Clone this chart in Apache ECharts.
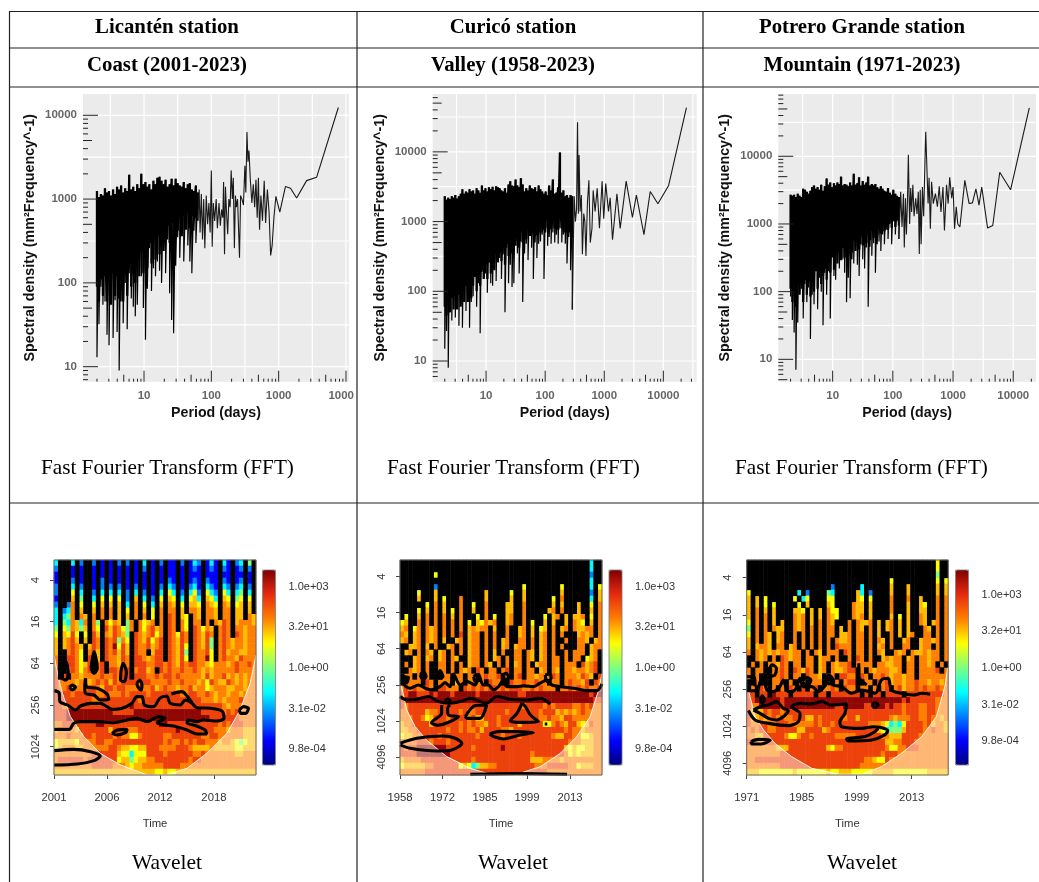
<!DOCTYPE html>
<html><head><meta charset="utf-8">
<script src="https://cdn.jsdelivr.net/npm/echarts@6/dist/echarts.min.js"></script>
<style>html,body{margin:0;padding:0;background:#fff}#c{width:1039px;height:882px}</style>
</head><body><div id="c"></div>
<script>
// ---------- FFT: shared period samples of the dense part (days)
const densePeriods=[2,2.14,2.29,2.45,2.63,2.82,3.02,3.24,3.47,3.72,3.98,4.27,4.57,4.9,5.25,5.62,6.03,6.46,6.92,7.41,7.94,8.51,9.12,9.77,10.5,11.2,12,12.9,13.8,14.8,15.8,17,18.2,19.5,20.9,22.4,24,25.7,27.5,29.5,31.6,33.9,36.3,38.9,41.7,44.7,47.9,51.3,55,58.9,63.1,67.6,72.4,77.6,83.2,89.1,95.5,102,110,117,126,135,145,155,166,178,191,204,219,234,251,269,288];

const licantenHigh=[1250,1050,1150,1100,1350,1200,1250,1100,1300,1150,1400,1300,1450,1200,1350,1250,1950,1300,1400,1250,1500,1350,2000,1500,1600,1400,1500,1300,1650,1500,1800,1850,1650,1500,1700,1400,1500,1750,1450,1750,1550,1450,1400,1600,1350,1500,1550,1300,1250,1450,1200];
const licantenCore=[90,60,110,70,120,60,110,55,130,70,120,65,130,60,150,70,170,90,130,100,190,120,240,130,280,150,300,170,330,190,370,220,400,240,330,480,300,520,280,560,420,600,360,640,430,700,450,620,700,600,800];
const licantenLow=[13,32,90,55,60,24,18,60,22,62,26,9,60,33,100,28,130,65,52,40,55,250,120,50,21,85,260,80,150,120,180,140,100,450,130,330,75,36,25,160,350,200,520,180,450,280,180,130,420,300,550];
const licantenSparse=[[66,1300],[68,400],[71,1150],[74,330],[77,1000],[80,260],[84,1100],[88,500],[92,900],[96,400],[100,2200],[103,270],[107,900],[112,550],[118,1000],[123,450],[130,900],[136,480],[142,750],[148,600],[152,1600],[157,220],[162,1400],[168,700],[175,380],[182,1000],[190,800],[197,2200],[205,1000],[212,1800],[220,260],[228,1100],[235,800],[245,1000],[255,950],[262,200],[272,1100],[285,1000],[300,850],[315,2500],[325,1200],[338,6300],[350,2800],[362,3800],[378,1800],[400,900],[420,1500],[440,800],[460,1700],[480,600],[500,1800],[520,430],[545,1100],[575,550],[610,1650],[640,520],[680,1300],[720,700],[760,212],[800,280],[850,600],[910,1080],[1040,700],[1260,1410],[1500,1350],[1850,1030],[2600,1660],[3660,1820],[7700,12400]];

const curicoHigh=[2300,2050,2200,2100,2300,2200,2400,2150,2300,2500,2900,2500,2700,2600,2900,2700,2800,2500,3000,2800,2600,3300,2800,3000,2700,3100,2900,3150,2800,3200,3100,3000,2800,2700,3000,2600,3400,3800,3300,3200,4000,3300,3100,4200,3400,2700,3000,2800,3300,3000,2900,3100,2700,3300,2900,2700,2500,2700,2400,3300,2800,4000,2500,2600,3100,9800,2600,2800,2300,2400,2200,2400,2300];
const curicoCore=[60,45,70,50,80,55,85,55,90,60,100,70,120,70,130,80,120,160,100,170,120,200,150,240,150,260,180,300,200,340,260,360,270,430,240,480,320,530,350,600,450,650,420,720,500,780,560,800,620,850,680,900,640,980,700,1000,760,1050,800,1050,780,1100,800,1050,760,1100,800,1000,700,1000,700,1000,600];
const curicoLow=[15,27,8,50,38,75,42,62,32,70,30,115,52,85,30,70,85,190,60,130,25,190,150,180,95,370,130,120,210,140,520,300,150,340,50,420,130,240,115,130,600,350,180,520,70,350,480,280,650,420,150,500,300,480,520,650,150,700,450,600,480,700,500,650,480,800,500,650,480,250,600,200,55];
const curicoSparse=[[310,2300],[325,1000],[340,1500],[353,26500],[365,1300],[375,9000],[390,1400],[410,2400],[427,340],[450,1300],[470,1000],[490,320],[520,1900],[550,3900],[580,500],[620,800],[650,2800],[700,1400],[760,3000],[830,800],[920,3800],[980,1100],[1060,3500],[1180,1400],[1260,2200],[1380,550],[1640,2500],[1760,2400],[1860,800],[2350,3800],[3000,1150],[3500,2400],[4700,650],[6000,2700],[8100,1800],[12300,3300],[24600,43000]];

const potreroHigh=[2700,2600,2700,2500,2800,2600,2500,3300,3200,3000,2800,3100,3500,3700,3300,3500,3200,3800,3100,3600,4700,3800,4100,3500,4000,3700,4100,3900,5000,3700,3900,3800,3600,4100,3700,5500,3800,4000,4900,3700,4300,3800,4100,5000,3700,3900,3700,3900,3500,3300,3600,3300,3100,3000,3400,2900,2700,3200,2800,2600,2500];
const potreroCore=[110,70,100,60,130,90,140,70,150,90,140,85,170,100,200,110,190,130,170,220,150,280,190,320,210,360,260,380,290,440,320,470,350,520,380,560,400,600,420,650,480,680,520,720,580,780,620,820,680,880,720,920,780,1000,820,1060,880,1100,900,1150,950];
const potreroLow=[85,38,25,7,35,100,110,40,130,70,115,20,90,65,220,55,160,100,32,190,90,200,40,380,170,150,330,220,420,300,190,70,160,80,300,260,480,250,170,500,300,220,450,60,460,340,520,190,500,550,400,700,500,820,600,1000,500,1300,700,1100,600];
const potreroSparse=[[130,1200],[135,3000],[142,900],[150,2800],[155,450],[162,2400],[168,700],[175,2200],[181,10500],[190,1000],[198,3400],[205,1500],[215,3800],[225,1300],[240,2400],[252,1400],[265,3000],[275,360],[285,3200],[295,500],[310,3500],[325,1300],[345,12000],[352,23000],[372,5000],[385,2000],[400,4800],[420,850],[440,4200],[470,2000],[510,2800],[550,1800],[590,3600],[630,1500],[680,3500],[720,800],[780,3800],[830,2000],[880,4900],[950,2400],[1000,3500],[1060,850],[1130,1800],[1200,1000],[1300,900],[1570,4400],[1850,2000],[2100,2050],[2400,3300],[2700,1900],[3000,3500],[3750,870],[4570,950],[5970,5800],[9040,3200],[18500,52000]];

// ---------- Wavelet power: one char per cell, 0 navy ... 9 dark red, # significance black
const levelPositions=[0.02,0.12,0.25,0.37,0.5,0.62,0.69,0.75,0.84,0.98];
const licantenRows=[
"3###3#2# #2#1#1#2 #2#1#3#1 #2#11#2# 132#131# 31#23#4#",
"2###1#1# #1#1#1#1 #1#1#2#1 #1#11#1# 121#121# 21#12#2#",
"1###1#1# #1#1#1#1 #1#1#1#1 #1#11#1# 111#111# 11#11#1#",
"1###2#1# #1#2#1#1 #1#1#1#1 #1#21#1# 121#211# 21#12#1#",
"2###3#2# #1#2#2#2 #1#2#1#1 #2#32#1# 231#321# 32#23#2#",
"2###5#3# #2#3#3#3 #2#3#2#1 #3#53#2# 352#532# 53#34#3#",
"1###6#4# #3#5#5#5 #2#6#3#2 #5#65#3# 563#653# 65#45#5#",
"2##27#5# #5#6#6#6 #3#7#5#3 #6#76#5# 665#765# 76#56#6#",
"3#237#6# #6#7#7#6 #5#7#6#5 #7#77#6# 776#776# 77#66#6#",
"3#347#76 #7#7#7#6 #6#7#7#5 #7#87#65 #76#776# 77#66#76",
"3#437637 #74#7576 #47#7567 #7#87#75 #77#7#76 87#67776",
"4#547646 #75#8687 547#7578 67#87#75 #87576#7 87#77677",
"5#6585#5 #86#7687 64#87678 57#87587 #87687#7 87#87677",
"6#6786#6 #87#8784 75#87685 78#87687 #87684#7 87677677",
"6#67876# 687#8795 86#87786 78#87685 #87684#7 87677677",
"6##7875# 786#8786 86#877#6 88#87684 #87785#7 86776677",
"7##8875# 8#6#8776 87#88767 88#87685 #87795#7 87768777",
"7##88756 8#78#776 87#88877 88787687 88776577 76787787",
"8##78757 8#78#887 88#78867 #8787787 78767677 77787777",
"8#8#7767 77787787 88#88877 87887877 77768677 86767677",
"87777677 67878687 88887887 77787787 77675876 68767677",
"87787777 88768878 87778778 67877677 86775677 76677677",
"88887888 88778777 87888878 88888877 88778767 76776777",
"88888888 87788888 88887888 88888888 88877767 67778777",
"88788888 88888888 88988888 88888888 88888888 76777777",
"88899999 99999988 88899999 99999999 99988888 78787777",
"88899999 99999999 99999999 99999999 99999888 88887777",
"77888888 88998888 88888888 89988888 88888887 87888777",
"67777688 88888688 87778888 88888988 88888877 76777666",
"77787778 87888878 77557888 88778888 88877887 77777666",
"56666577 77887788 88888888 88787787 87887776 77654566",
"56777667 77777887 66556688 87777888 76666766 66655666",
"77777777 78888886 55355588 88788888 87787777 77766777",
"78888887 88888885 66456677 88888888 78877777 77777777",
"77777777 78888877 76566777 77888877 77777777 77777777",
"66666666 66666666 66666666 55655666 66666666 66666666"];
const curicoRows=[
"######## ######## ######## ######## ######## #####3##",
"######## ######## ######## ######## ######## #####3##",
"######## 5####### ######## ######## ######## #####2##",
"######## ######## ######## ######## ######## #####3##",
"######## 2####### ######## #####5## ######5# #####3#5",
"####5### 6####### ####6### ##5##6## ######6# #####2#6",
"####6### 6#5###7# ####6### ##6##6## ####5#7# #####3#6",
"######5# 7#6###7# #5##7### #66##7## ####6#6# ##6##5#7",
"####5#6# 7#6#5#7# #6##7### #66##7## ###67#7# ##6##6#7",
"#5##6#7# 7#7#6#7# ##5#7#5# #67##7## ##5#67#6 #667#5#7",
"56##7#7# 7#7#7#7# 5#65767# #67##7#5 ##6#6##6 #765#6#7",
"67#57#76 7#7#7#7# 67677#6# #7##67#6 #56#7#67 #76677#7",
"76#67#76 7#7#7#8# 677#7#7# #7##67#6 #67#7#7# ##6767#7",
"67#67#76 7#6##67# 677#7#7# 67##77#7 #67#7##7 ##776#67",
"##667#6# 7##67#7# 677#7#7# 67#677#7 #67#7#7# ##77#677",
"#67#7#76 #67#7#7# 677#7#6# 7##77#76 #67#7##7 #777#67#",
"###67#67 #67#76## 677#7#67 #7#77#76 #67#77#7 #77#567#",
"#7#67#7# #77#7#7# 677#76#7 #7#67#7# 677#77#7 77#8678#",
"##767#7# #77#7#76 7#87#77# 78#77#77 #67#76#7 7677678#",
"#77#7#7# ##77#77# 77#78778 #7#78#77 677787#7 776876#8",
"#8777#87 #777#67# 7777#877 ##877877 877#77#7 87768#87",
"78787787 #88777#8 78787887 87888778 78777#77 87878778",
"88998889 89998999 99899999 99998899 99999999 99999899",
"89999999 99999999 99999999 99999999 99999999 99999988",
"87888888 88888888 88888888 88888788 88787888 87787877",
"77888867 78888878 77888888 87888888 87888676 76787777",
"77788756 88878888 78668887 88888888 87787768 87777777",
"67788886 88888878 78776887 88886888 88557876 88656877",
"66778888 88878878 77868888 77688888 88888887 87767777",
"56677888 87888888 88788888 78887888 88887668 87755677",
"77778887 88878888 88888888 88888888 88888888 77766677",
"87889999 99988888 87888888 98888888 88888886 56556677",
"88889999 99998888 88888888 88888887 88888887 56566677",
"67777888 88888888 87888888 88888886 66777767 77777777",
"56666677 88888856 53466778 88888888 77788888 77566677",
"77777788 88888888 88888888 88888888 88877777 77777777"];
const potreroRows=[
"######## ######## ######## ######## ######## #####5##",
"######## ######## ######## ######## ######## #####5##",
"######## ######## ######## ######## ######## #####4##",
"######## ######## ######## ######## ##5##### #####5#5",
"######## ######## ####2### ###3#### ##6###6# #####6#6",
"5####### ####3#2# ###43### ##63#2## ##6###6# #####6#6",
"6#6#5### ###5#35# ###55### ##65#5## ##7###7# #6###7#7",
"6#6#5#5# ####5#6# ###65### #766#6## ##7###6# #65##7#7",
"6#7#6#6# ###665#6 #6#755## #766#6## ##7###6# #66##7#7",
"6#7#7#6# ###767#6 #6#765## #767#6## ##6#5#6# #76##7#7",
"5#7#7#6# 6##767#6 #7#76### 7#7667#6 #67#6#6# #76#67#7",
"4#7#7#76 6##767#7 #7#77#6# 7#76#7#6 #67#6#6# ##76#7#7",
"5#7#76#6 7##7#7#7 #7#77#66 7#77#7#6 ##7#6#67 ##77#7#7",
"6#7#76#6 7##7#7#7 #7#7#766 7#77#7#7 6#7##67# #67767#7",
"6#6776#7 7#67#7#7 #7#7#877 7#77#7#6 7#7##77# #677#7#7",
"7#767676 77677#7# 76#777#8 7#77#7#7 6##767#7 667677#7",
"##767#7# 87677#77 #677#7## 7#87#7## 67677#67 #77677#7",
"#7#7#776 87#77#77 #67#7677 8#7777#7 76677#77 #7767#7#",
"7#77##77 87#87687 #67#7667 88#7#767 77667#77 #77778#7",
"7#7###77 87#77#87 76#77#88 77#87#77 87677677 #7777777",
"##7###77 8#7#87#7 77#7#7#7 88##77#8 78677677 87767767",
"#7#87#7# 7#87#8#7 8#7787#8 77#77#7# 78#78677 87877877",
"88#88#98 88#88888 #88#8888 888#8#88 #8888#88 88888887",
"88999999 89999999 99999999 99999999 99999898 88888777",
"87799999 89999999 99999889 99998899 98988788 87788777",
"86668788 78888888 88888888 88888888 88888788 87788777",
"86676787 87788866 87888887 88688888 88767778 87787767",
"87788778 88777777 87887888 88888777 65343588 88786776",
"78788778 88886688 88678888 88888886 53444688 88778776",
"77668888 87557887 88888777 77888888 77666888 87777777",
"87778888 88888888 88888888 88888888 86677888 77777777",
"77777776 66888888 88865778 88888888 87557788 87777777",
"77777777 88888888 88888888 88888888 78887777 77777777",
"77888888 88888888 88888888 88887765 58777777 77777777",
"77777777 88888888 88888888 88877777 77777777 77777777",
"66655555 55565555 55565566 65555566 66655555 55566666"];

// ---------- Significance contours and cone of influence: [time cell, log2(period)]
const licantenContours=[
[[0,7.31],[1.2,7.41],[1.4,7.84],[3.2,8],[5.1,8.24],[6.3,8.05],[8.7,7.92],[11,7.92],[12.6,8.08],[13.8,8.21],[16.2,8.16],[18.5,7.92],[19.7,7.6],[20.9,7.6],[21.5,8],[23.7,8.08],[25.1,7.68],[26.8,7.57],[27.6,7.92],[30,8],[31.2,7.76],[32.8,7.92],[33.9,8.13],[37.1,8.16],[39.9,8.29],[40.4,8.64],[38.7,8.77],[35.5,8.72],[33.9,8.8],[32,8.72],[31.6,8.85],[33.9,9.01],[35.9,9.2],[36.3,9.39],[33.9,9.39],[31.6,9.2],[28.4,9.01],[26.4,8.96],[24.5,8.85],[26.4,8.64],[24.9,8.56],[22.1,8.8],[19.7,8.64],[17.4,8.72],[14.2,8.85],[10.3,8.8],[6.3,8.8],[4.7,8.88],[3.6,9.17],[0,9.17]],
[[7.5,6.72],[7.7,7.12],[10.3,7.2],[12.6,7.47],[13,7.73],[11,7.76],[9.5,7.52],[7.5,7.44],[7.3,7.12],[7.5,6.72]],
[[3.7,7.15],[4.3,7.04],[5.1,7.15],[4.3,7.28],[3.7,7.15]],
[[19.7,6.96],[20.4,6.8],[20.9,7.04],[20.7,7.28],[19.9,7.12],[19.7,6.96]],
[[27.9,7.47],[30.4,7.36],[31.4,7.52],[32.8,7.89]],
[[13.8,9.36],[15,9.2],[17.4,9.17],[17,9.33],[15,9.44],[13.8,9.36]],
[[44,8.24],[45.1,8.08],[46.2,8.16],[45.6,8.4],[44.4,8.4],[44,8.24]],
[[0,10.19],[4.7,10.13],[8.7,10.24],[11,10.45],[9.5,10.67],[5.5,10.83],[0,10.88]],
[[2,6.48],[2.2,5.92],[2.8,5.92],[3.4,6.48],[2.8,6.8],[2,6.72],[2,6.48]],
[[15.9,6.4],[16.4,6],[17.2,6.4],[16.7,6.88],[15.8,6.8],[15.9,6.4]],
[[8.8,6.24],[9.5,5.44],[10.3,6.24],[9.5,6.48],[8.8,6.24]]];
const licantenCone=[[0,5.6],[1,6.64],[2,7.44],[3.9,8.56],[7.1,9.52],[11,10.32],[15.8,10.88],[22.1,11.35],[26.8,11.35],[31.6,11.04],[36.3,10.32],[41.1,9.36],[44.2,8.24],[46.6,6.96],[48,5.6]];

const curicoContours=[
[[0,7.55],[1.6,7.58],[0.8,7.91],[2.4,8.19],[4.4,8.01],[6,8.19],[7.5,8.28],[9.5,8.1],[10.7,7.88],[11.9,8.1],[12.7,7.4],[14.3,8.01],[15.9,7.82],[17.9,8.01],[18.7,7.45],[19.8,8.01],[21,8.01],[22.2,8.28],[23.4,8.1],[24.6,7.73],[25.4,8.1],[27.8,8.1],[29.4,8.06],[31.7,8.1],[33.3,7.91],[34.9,7.73],[36.1,8.01],[38.1,8.1],[41.3,8.19],[44.4,8.32],[46.8,8.32],[48,7.95]],
[[0,8.65],[1.6,8.84],[4,8.8],[6.7,8.65],[9.1,8.93],[11.9,9.02],[14.3,8.93],[16.7,8.75],[20.6,9.02],[23,8.65],[26.2,8.8],[30.2,8.84],[33.3,8.75],[35.7,9.06]],
[[9.9,9.12],[9.9,9.58],[7.5,10.1],[9.1,10.24],[11.9,10.04],[13.9,9.76],[11.5,9.67],[11.3,9.3],[11.9,9.12]],
[[15.5,9.76],[17.9,9.15],[20.6,9.12],[19,9.86],[15.9,9.86],[15.5,9.76]],
[[29,9.02],[27.8,9.58],[26.2,9.99],[28.6,10.08],[32.9,10.04],[31,9.67],[29.8,9.21],[29,9.02]],
[[21.3,10.72],[23.8,10.58],[31.7,10.65],[28.6,10.78],[24.6,11],[22.2,10.87],[21.3,10.72]],
[[0,11.24],[4,10.96],[10.3,10.84],[13.1,10.96],[14.7,11.24],[12.3,11.61],[8.7,11.67],[2.4,11.52],[0,11.33]],
[[16.7,12.96],[27.8,12.92],[39.7,12.96]],
[[10.7,8.88],[11.3,8.77],[11.9,8.88],[11.3,8.99],[10.7,8.88]],
[[8.9,7.55],[9.5,7.21],[10.2,7.55],[9.5,7.64],[8.9,7.55]],
[[4.8,7.45],[5.6,7.27],[6.2,7.55],[5.4,7.69],[4.8,7.45]],
[[17.5,7.55],[18.1,7.45],[18.9,7.73],[17.9,7.82],[17.5,7.55]],
[[24.2,7.45],[25.2,7.36],[25.8,7.58],[25,7.73],[24.2,7.45]],
[[34.5,7.45],[35.6,7.4],[35.9,7.64],[34.9,7.82],[34.5,7.45]],
[[0.8,7.55],[2,7.58],[1.6,7.88],[0.4,7.73],[0.8,7.55]],
[[34.4,10.17],[35,10.17]]];
const curicoCone=[[0,7.9],[0.4,8.1],[1.6,9.39],[3.6,10.32],[6.3,11.06],[11.1,11.98],[16.7,12.63],[21.4,12.96],[27.8,12.96],[33.3,12.54],[38.1,11.8],[42,10.87],[45.2,9.76],[47.2,8.28],[48,7.36]];

const potreroContours=[
[[0,8.09],[2.4,8.09],[3.2,7.6],[4,7.33],[4.8,8.05],[6.3,8.14],[7.9,7.87],[8.7,7.51],[9.9,8.14],[11.5,8.05],[12.7,7.42],[13.5,7.87],[15.5,7.87],[17.1,8.14],[18.8,7.78],[19.6,7.42],[20.6,7.78],[22.6,7.87],[25,8.23],[27.4,8.05],[30.6,8.23],[32.1,7.51],[33.7,7.42],[34.5,8.05],[36.9,8.23],[39.7,8.32],[41.7,8.23],[43.7,8.28]],
[[0,7.33],[1.8,7.37],[2,7.87]],
[[18.7,7.51],[19.6,7.24],[20.6,7.51],[19.6,7.73],[18.7,7.51]],
[[13.3,7.6],[14.1,7.37],[15.3,7.51],[14.3,7.87],[13.3,7.6]],
[[5.2,7.06],[6,6.7],[7.1,6.88],[6.7,7.24],[5.6,7.3],[5.2,7.06]],
[[26.7,6.61],[26.7,7.33],[28.6,7.78]],
[[3.2,8.59],[3.7,8.37],[4.2,8.59],[3.7,8.77],[3.2,8.59]],
[[1.6,9.13],[3.2,8.95],[5.2,8.86],[7.1,8.68],[8.7,9.04],[9.9,9.16],[7.1,9.67],[5.2,9.58],[3.2,9.31],[1.6,9.13]],
[[0.4,9.16],[2,9.67],[5.2,9.85],[9.9,9.97],[12.3,9.76],[12.7,9.31],[10.7,8.95],[12.7,8.77],[15.5,8.8],[17.9,8.68],[20.2,8.86],[23.8,8.8],[23.4,9.31],[22.2,9.76],[22.6,10.03],[27.4,10.12],[30.2,10.03],[31.7,10.06],[33.6,10.24],[32.9,10.47],[29.8,10.74],[24.2,10.8],[23.8,10.69],[28.2,10.56],[30.6,10.29],[31.3,10.12]],
[[1,10.83],[2.8,10.71],[5.6,10.74],[3.6,10.96],[1.3,10.96],[1,10.83]],
[[29.8,8.86],[30.6,8.73],[31.3,8.86],[30.6,9],[29.8,8.86]]];
const potreroCone=[[0,7.4],[0.4,8.05],[2,9.49],[4,10.2],[6.7,10.92],[10.7,11.64],[15.5,12.27],[21.8,12.59],[27.4,12.59],[32.1,12.18],[36.9,11.46],[41.7,10.56],[45.2,9.49],[47.2,7.87],[48,6.7]];

// ---------- Tick labels
const licantenTimeLabels=['2001','2006','2012','2018'];
const curicoTimeLabels=['1958','1972','1985','1999','2013'];
const potreroTimeLabels=['1971','1985','1999','2013'];
const licantenPeriodTicks=[4,16,64,256,1024];
const longPeriodTicks=[4,16,64,256,1024,4096];
const colorbarTicks=[1000,32,1,0.031,0.00098];
const colorbarLabels=['1.0e+03','3.2e+01','1.0e+00','3.1e-02','9.8e-04'];
const stations=['Licantén station','Curicó station','Potrero Grande station'];
const settings=['Coast (2001-2023)','Valley (1958-2023)','Mountain (1971-2023)'];

const jet=['#00007F','#0000FF','#007FFF','#00FFFF','#7FFF7F','#FFFF00','#FF7F00','#E62A10','#7F0000'];
const sans='"Liberation Sans",Arial,sans-serif', serif='"Liberation Serif","Times New Roman",serif';

const grid=[],xAxis=[],yAxis=[],series=[],visualMap=[],graphic=[];

function addFFT(c){
  const g=grid.length;
  grid.push({show:true,left:c.left,top:94,width:c.width,height:287.7,backgroundColor:'#ebebeb',borderWidth:0});
  const baseLabel={color:'#666',fontFamily:sans,fontSize:11.5,fontWeight:'bold'};
  const fmt=last=>v=>{const l=Math.log10(v);if(Math.abs(l-Math.round(l))>1e-6)return '';return last&&Math.round(v)===10000?last:String(Math.round(v));};
  xAxis.push({type:'log',gridIndex:g,min:c.x[0],max:c.x[1],logBase:10,axisLine:{show:false},axisTick:{show:false},splitLine:{show:false},minorSplitLine:{show:false},
    axisLabel:Object.assign({margin:8,hideOverlap:false,showMinLabel:true,showMaxLabel:true,formatter:fmt(c.lastLabel)},baseLabel),
    name:'Period (days)',nameLocation:'middle',nameGap:24,nameTextStyle:{fontFamily:sans,fontSize:14.2,fontWeight:'bold',color:'#111'}});
  yAxis.push({type:'log',gridIndex:g,min:c.y[0],max:c.y[1],logBase:10,axisLine:{show:false},axisTick:{show:false},splitLine:{show:false},
    axisLabel:Object.assign({margin:6,hideOverlap:false,formatter:fmt()},baseLabel),
    name:'Spectral density (mm²Frequency^-1)',nameLocation:'middle',nameGap:46,nameTextStyle:{fontFamily:sans,fontSize:14.3,fontWeight:'bold',color:'#111'}});
  const xi=xAxis.length-1, yi=yAxis.length-1;
  const dec=[1,10,100,1000,10000,100000];
  series.push({type:'custom',xAxisIndex:xi,yAxisIndex:yi,silent:true,z:1,clip:true,data:[[100,100]],renderItem(p,api){
    const cs=p.coordSys,ch=[];
    dec.forEach(d=>[d,d*Math.sqrt(10)].forEach(v=>{
      if(v>c.x[0]&&v<c.x[1]){const q=api.coord([v,100])[0];ch.push({type:'line',shape:{x1:q,y1:cs.y,x2:q,y2:cs.y+cs.height},style:{stroke:'#fff',lineWidth:1.2}});}
      if(v>c.y[0]&&v<c.y[1]){const q=api.coord([100,v])[1];ch.push({type:'line',shape:{x1:cs.x,y1:q,x2:cs.x+cs.width,y2:q},style:{stroke:'#fff',lineWidth:1.2}});}
    }));
    return {type:'group',children:ch};
  }});
  const zig=(lows)=>{const d=[];c.hi.forEach((h,i)=>{d.push([densePeriods[i],h]);d.push([densePeriods[i],lows[i]]);});return d;};
  const spikes=zig(c.lo);
  series.push({type:'line',xAxisIndex:xi,yAxisIndex:yi,data:spikes,symbol:'none',silent:true,animation:false,z:3,lineStyle:{color:'#000',width:1.2,join:'bevel'}});
  series.push({type:'line',xAxisIndex:xi,yAxisIndex:yi,data:zig(c.core),symbol:'none',silent:true,animation:false,z:3,lineStyle:{color:'#000',width:2.3,join:'bevel'}});
  series.push({type:'line',xAxisIndex:xi,yAxisIndex:yi,data:[spikes[spikes.length-1]].concat(c.sparse),symbol:'none',silent:true,animation:false,z:3,lineStyle:{color:'#1a1a1a',width:1.1,join:'bevel'}});
  series.push({type:'custom',xAxisIndex:xi,yAxisIndex:yi,silent:true,z:4,clip:false,data:[[100,100]],renderItem(p,api){
    const cs=p.coordSys,ch=[],b=cs.y+cs.height,st={stroke:'#222',lineWidth:1};
    dec.forEach(d=>[1,2,3,4,5,6,7,8,9].forEach(m=>{
      const v=d*m;
      if(v>c.x[0]*1.5&&v<c.x[1]){const q=api.coord([v,100])[0],l=m===1?11:m===5?7:3;ch.push({type:'line',shape:{x1:q,y1:b,x2:q,y2:b-l},style:st});}
      if(v>c.y[0]&&v<c.y[1]){const q=api.coord([100,v])[1],l=m===1?15:m===5?9:5;ch.push({type:'line',shape:{x1:cs.x,y1:q,x2:cs.x+l,y2:q},style:st});}
    }));
    return {type:'group',children:ch};
  }});
}

function addWavelet(c){
  const g=grid.length;
  grid.push({show:false,left:c.left,top:560,width:c.width,height:215});
  const cols=Array.from({length:48},(_,i)=>i), rows=Array.from({length:36},(_,i)=>i);
  xAxis.push({type:'category',gridIndex:g,data:cols,show:false});
  yAxis.push({type:'category',gridIndex:g,data:rows,inverse:true,show:false});
  const hx=xAxis.length-1,hy=yAxis.length-1;
  xAxis.push({type:'value',gridIndex:g,min:0,max:48,position:'bottom',splitLine:{show:false},axisLine:{show:false},
    axisTick:{show:true,length:4,lineStyle:{color:'#444'},customValues:c.timeTicks},
    axisLabel:{customValues:c.timeTicks,margin:17,color:'#333',fontFamily:sans,fontSize:11.3,formatter:v=>c.timeLabels[c.timeTicks.indexOf(v)]},
    name:'Time',nameLocation:'middle',nameGap:43,nameTextStyle:{fontFamily:sans,fontSize:11.3,color:'#333'}});
  const yt=c.periodTicks.map(Math.log2);
  yAxis.push({type:'value',gridIndex:g,min:c.y[0],max:c.y[1],inverse:true,position:'left',splitLine:{show:false},axisLine:{show:false},
    axisTick:{show:true,length:4,lineStyle:{color:'#444'},customValues:yt},
    axisLabel:{customValues:yt,rotate:90,margin:13,color:'#333',fontFamily:sans,fontSize:11.3,formatter:v=>String(Math.round(Math.pow(2,v)))}});
  const vx=xAxis.length-1,vy=yAxis.length-1;
  const power=[],black=[];
  c.rows.forEach((r,j)=>r.replace(/ /g,'').split('').forEach((ch,i)=>{
    if(ch==='#')black.push([i,j,1]);else power.push([i,j,levelPositions[+ch]]);
  }));
  const hi=series.length;
  series.push({type:'heatmap',xAxisIndex:hx,yAxisIndex:hy,data:power,silent:true,animation:false,progressive:0,z:2,itemStyle:{borderWidth:0}});
  visualMap.push({type:'continuous',seriesIndex:hi,dimension:2,min:0,max:1,calculable:false,show:true,orient:'vertical',
    left:c.barLeft,top:570,itemWidth:c.barWidth,itemHeight:195,padding:0,text:null,showLabel:false,realtime:false,hoverLink:false,
    inRange:{color:jet}});
  series.push({type:'custom',xAxisIndex:vx,yAxisIndex:vy,silent:true,z:3,clip:true,data:[[0,c.y[1]]],renderItem(p,api){
    const pts=c.cone.map(q=>api.coord(q));
    const poly=pts.concat([api.coord([48,c.y[1]]),api.coord([0,c.y[1]])]);
    return {type:'group',children:[
      {type:'polygon',shape:{points:poly},style:{fill:'rgba(255,255,255,0.45)'}},
      {type:'polyline',shape:{points:pts},style:{fill:null,stroke:'rgba(255,255,255,0.9)',lineWidth:1}}]};
  }});
  series.push({type:'heatmap',xAxisIndex:hx,yAxisIndex:hy,data:black,silent:true,animation:false,progressive:0,z:3,itemStyle:{color:'#000',borderWidth:0}});
  c.contours.forEach(line=>series.push({type:'line',xAxisIndex:vx,yAxisIndex:vy,data:line,symbol:'none',silent:true,animation:false,z:4,smooth:0.3,clip:true,lineStyle:{color:'#000',width:3.1}}));
  series.push({type:'custom',xAxisIndex:vx,yAxisIndex:vy,silent:true,z:5,clip:false,data:[[0,c.y[1]]],renderItem(p){
    const s=p.coordSys;return {type:'rect',shape:{x:s.x,y:s.y,width:s.width,height:s.height},style:{fill:null,stroke:'#666',lineWidth:1}};
  }});
  // colour-bar scale
  const b=grid.length;
  grid.push({show:true,left:c.barLeft,top:570,width:c.barWidth,height:195,borderColor:'#777',borderWidth:0.8,backgroundColor:'transparent',z:5});
  xAxis.push({type:'value',gridIndex:b,min:0,max:1,show:false});
  const ct=colorbarTicks.map(Math.log10);
  yAxis.push({type:'value',gridIndex:b,min:c.bar[0],max:c.bar[1],position:'right',splitLine:{show:false},axisLine:{show:false},
    axisTick:{show:true,length:4,lineStyle:{color:'#444'},customValues:ct},
    axisLabel:{customValues:ct,margin:13,color:'#333',fontFamily:sans,fontSize:11,formatter:v=>colorbarLabels[ct.indexOf(v)]}});
}

addFFT({left:83,width:266,x:[1.24,11090],y:[6.62,17950],hi:licantenHigh,core:licantenCore,lo:licantenLow,sparse:licantenSparse,lastLabel:'1000   '});
addFFT({left:432.7,width:264,x:[1.25,36700],y:[5.05,67600],hi:curicoHigh,core:curicoCore,lo:curicoLow,sparse:curicoSparse});
addFFT({left:778.3,width:260.7,x:[1.25,23900],y:[4.67,83200],hi:potreroHigh,core:potreroCore,lo:potreroLow,sparse:potreroSparse});

addWavelet({left:54,width:202,y:[1.04,11.36],rows:licantenRows,contours:licantenContours,cone:licantenCone,timeTicks:[0,12.6,25.2,38],timeLabels:licantenTimeLabels,periodTicks:licantenPeriodTicks,barLeft:262.5,barWidth:13,bar:[-3.6,3.63]});
addWavelet({left:400,width:202,y:[1.08,13],rows:curicoRows,contours:curicoContours,cone:curicoCone,timeTicks:[0,10.1,20.2,30.2,40.4],timeLabels:curicoTimeLabels,periodTicks:longPeriodTicks,barLeft:609,barWidth:13,bar:[-3.6,3.63]});
addWavelet({left:746.7,width:201.5,y:[1.05,12.63],rows:potreroRows,contours:potreroContours,cone:potreroCone,timeTicks:[0,13.1,26.2,39.3],timeLabels:potreroTimeLabels,periodTicks:longPeriodTicks,barLeft:955.5,barWidth:13,bar:[-4,4.03]});

// table rules
const rule=(x1,y1,x2,y2)=>graphic.push({type:'line',silent:true,z:20,shape:{x1,y1,x2,y2},style:{stroke:'#222',lineWidth:1.2}});
[11.5,48,87,503].forEach(y=>rule(9,y,1039,y));
[9.5,357,703].forEach(x=>rule(x,11,x,882));
const centers=[167,513,862];
const txt=(t,x,y,size,bold,align)=>graphic.push({type:'text',silent:true,z:20,x,y,style:{text:t,fill:'#000',font:(bold?'bold ':'')+size+'px '+serif,textAlign:align||'center',textVerticalAlign:'middle'}});
stations.forEach((s,i)=>txt(s,centers[i],28,20.8,true));
settings.forEach((s,i)=>txt(s,centers[i],65.5,20.8,true));
[41,387,735].forEach(x=>txt('Fast Fourier Transform (FFT)',x,468,21.2,false,'left'));
centers.forEach(x=>txt('Wavelet',x,863,21.5,false));

const chart=echarts.init(document.getElementById('c'),null,{renderer:'canvas'});
chart.setOption({animation:false,backgroundColor:'#fff',grid,xAxis,yAxis,series,visualMap,graphic,tooltip:{show:false}});
</script></body></html>
